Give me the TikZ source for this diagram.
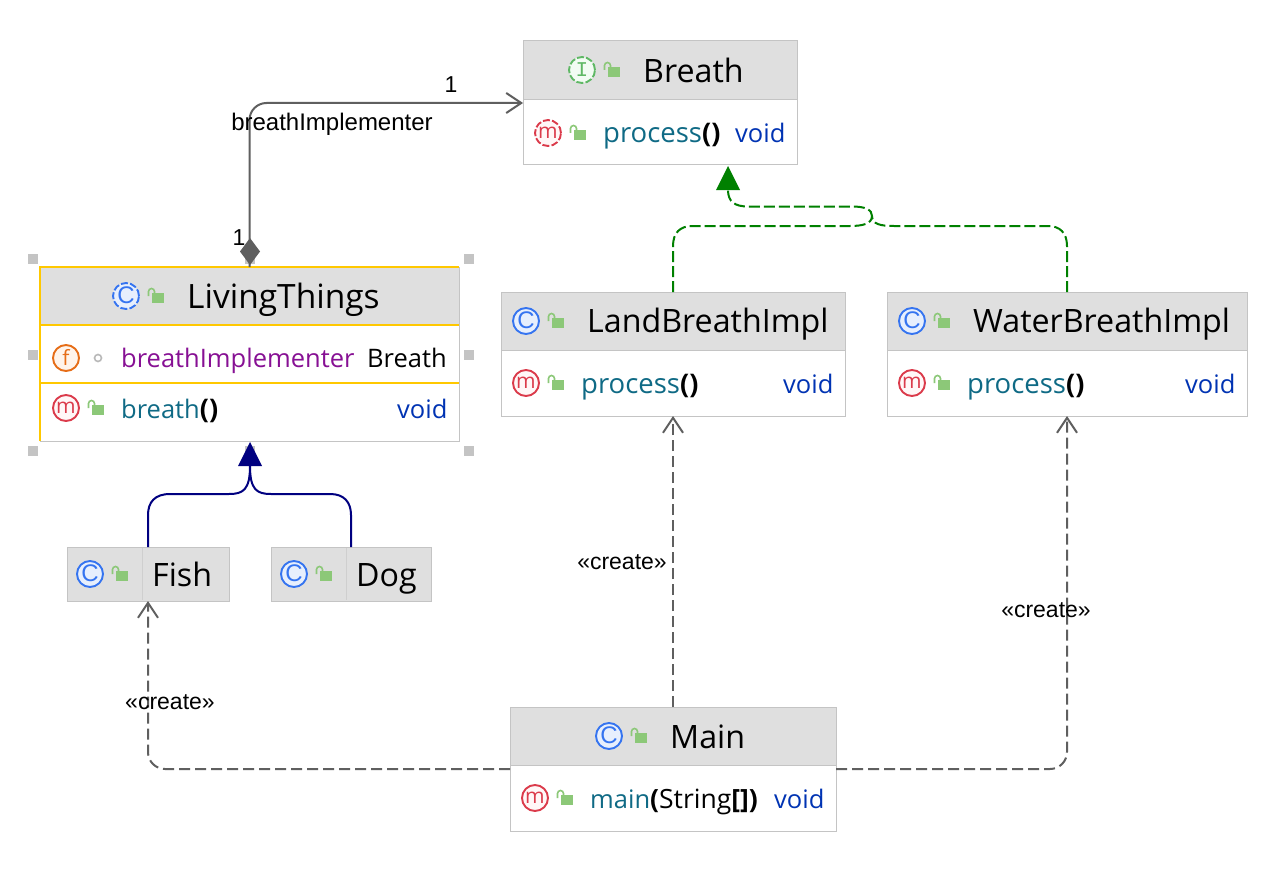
\documentclass[tikz,border=0pt]{standalone}
\usepackage{fontspec}
\setmainfont{Open Sans}
\newfontfamily\lab{Liberation Sans}
\newfontfamily\icmono{Liberation Mono}
\usetikzlibrary{arrows.meta}
\definecolor{hdr}{HTML}{DFDFDF}
\definecolor{edge}{HTML}{C4C4C4}
\definecolor{sel}{HTML}{FFC800}
\definecolor{tealm}{HTML}{0F6A85}
\definecolor{voidb}{HTML}{0033B3}
\definecolor{purp}{HTML}{871094}
\definecolor{lockg}{HTML}{8CC878}
\definecolor{conn}{HTML}{5F5F5F}
\definecolor{gr}{HTML}{008000}
\definecolor{nv}{HTML}{000080}
\newcommand{\procfont}{\fontsize{27.5}{28}\selectfont}
\newcommand{\parenfont}{\fontsize{27}{28}\selectfont\bfseries}
\tikzset{
 box/.style={draw=edge,line width=1pt,fill=white,inner sep=0pt,outer sep=0pt},
 head/.style={fill=hdr,draw=none},
 ttl/.style={anchor=base west,inner sep=0pt,font=\fontsize{32.2}{33}\selectfont,text=black},
 itm/.style={anchor=base west,inner sep=0pt,font=\fontsize{25.5}{26}\selectfont},
 lbl/.style={inner sep=0pt,font=\lab\fontsize{23}{23}\selectfont,text=black},
 conline/.style={draw=conn,line width=2pt},
 barb/.style={-{Straight Barb[length=15pt,width=20pt,line width=2pt]}},
 dep/.style={conline,dash pattern=on 11pt off 5pt,barb},
 gdash/.style={gr,line width=2pt,dash pattern=on 11pt off 4pt},
 lockbody/.style={fill=lockg,draw=none},
 hnd/.style={fill=edge,draw=none,minimum size=10pt,inner sep=0pt,outer sep=0pt},
 ic/.style={circle,inner sep=0pt,minimum size=26pt,line width=1.9pt},
}
\newcommand{\lockat}[2]{%
 \fill[lockbody] (#1-4,#2-3) rectangle (#1+8,#2+7);
 \draw[lockg,line width=1.6pt] (#1-7.5,#2) -- (#1-7.5,#2-4.5) arc[start angle=180,end angle=360,radius=3] -- (#1-1.5,#2-3);}
\newcommand{\iconat}[5]{% x,y,letter,colour,fill
 \node[ic,draw=#4,fill=#5,text=#4,font=\fontsize{21}{21}\selectfont] at (#1,#2) {\raisebox{1pt}{#3}};}
\newcommand{\dashiconat}[5]{%
 \node[ic,draw=#4,fill=#5,text=#4,dash pattern=on 7pt off 2.2pt,font=\fontsize{21}{21}\selectfont] at (#1,#2) {\raisebox{1pt}{#3}};}
\definecolor{cb}{HTML}{3574F0}\definecolor{cbf}{HTML}{E7EFFD}
\definecolor{mr}{HTML}{DB3B4B}\definecolor{mrf}{HTML}{FFF7F7}
\definecolor{fo}{HTML}{E66D17}\definecolor{fof}{HTML}{FFF4EB}
\definecolor{ig}{HTML}{5FB865}\definecolor{igf}{HTML}{F2FCF3}
\newcommand{\Cc}{{\lab\fontsize{24}{24}\selectfont C}}
\newcommand{\Ii}{{\icmono\fontsize{21}{21}\selectfont I}}
\begin{document}
\begin{tikzpicture}[x=1pt,y=-1pt]
\useasboundingbox (0,0) rectangle (1288,872);
\fill[white] (0,0) rectangle (1288,872);

% selection handles
\foreach \hx/\hy/\hn in {33/259/a,250/259/b,469/259/c,33/355/d,469/355/e,33/451/f,250/451/g,469/451/h}
 \node[hnd] (hnd\hn) at (\hx,\hy) {};

% Breath
\node[box,minimum width=274pt,minimum height=124pt] (breath) at (660,103) {};
\fill[head] (523.5,41.5) rectangle (796.5,99);
\draw[edge,line width=1.6pt] (523,99.5) -- (797,99.5);
\dashiconat{582}{70}{\Ii}{ig}{igf}
\lockat{612}{70}
\node[ttl] (breathT) at (643,82.5) {Breath};
\dashiconat{548}{133}{m}{mr}{mrf}
\lockat{578}{133}
\node[itm,text=tealm] (breathP) at (603,142.5) {\procfont process\textcolor{black}{\parenfont ()}};
\node[itm,text=voidb] (breathV) at (735,142.5) {void};

% LivingThings
\node[box,draw=none,minimum width=419pt,minimum height=174pt] (living) at (249.5,354) {};
\fill[head] (40,267) rectangle (459,325);
\draw[edge,line width=1pt] (40,441) -- (459,441) -- (459,267);
\draw[sel,line width=1.8pt] (40,441) -- (40,267) -- (459,267);
\draw[sel,line width=1.8pt] (40,325) -- (459,325);
\draw[sel,line width=1.8pt] (40,383) -- (459,383);
\dashiconat{126}{296}{\Cc}{cb}{cbf}
\lockat{156}{296}
\node[ttl,font=\fontsize{33.5}{34}\selectfont] (livingT) at (187,308) {LivingThings};
\iconat{66}{358}{f}{fo}{fof}
\draw[edge!70!black!60!white,line width=1.6pt] (98,358) circle (3.5);
\node[itm,text=purp] (livingF) at (121,367.5) {breathImplementer};
\node[itm,text=black] (livingB) at (367,367.5) {Breath};
\iconat{66}{408}{m}{mr}{mrf}
\lockat{96}{408}
\node[itm,text=tealm] (livingM) at (121,418) {breath\textcolor{black}{\parenfont ()}};
\node[itm,text=voidb] (livingV) at (397,418) {void};

% LandBreathImpl
\node[box,minimum width=344pt,minimum height=124pt] (land) at (673,354) {};
\fill[head] (501.5,292.5) rectangle (844.5,350);
\draw[edge,line width=1.6pt] (501,350.5) -- (845,350.5);
\iconat{526}{321}{\Cc}{cb}{cbf}
\lockat{556}{321}
\node[ttl] (landT) at (587,332.5) {LandBreathImpl};
\iconat{526}{383}{m}{mr}{mrf}
\lockat{556}{383}
\node[itm,text=tealm] (landP) at (581,393.5) {\procfont process\textcolor{black}{\parenfont ()}};
\node[itm,text=voidb] (landV) at (783,393.5) {void};

% WaterBreathImpl
\node[box,minimum width=360pt,minimum height=124pt] (water) at (1067,354) {};
\fill[head] (887.5,292.5) rectangle (1246.5,350);
\draw[edge,line width=1.6pt] (887,350.5) -- (1247,350.5);
\iconat{912}{321}{\Cc}{cb}{cbf}
\lockat{942}{321}
\node[ttl] (waterT) at (973,332.5) {WaterBreathImpl};
\iconat{912}{383}{m}{mr}{mrf}
\lockat{942}{383}
\node[itm,text=tealm] (waterP) at (967,393.5) {\procfont process\textcolor{black}{\parenfont ()}};
\node[itm,text=voidb] (waterV) at (1185,393.5) {void};

% Fish
\node[box,fill=hdr,minimum width=162pt,minimum height=54pt] (fish) at (148,574) {};
\draw[edge!60!hdr,line width=.8pt] (142.5,548) -- (142.5,600);
\iconat{90}{574}{\Cc}{cb}{cbf}
\lockat{120}{574}
\node[ttl] (fishT) at (152,586) {Fish};

% Dog
\node[box,fill=hdr,minimum width=160pt,minimum height=54pt] (dog) at (351,574) {};
\draw[edge!60!hdr,line width=.8pt] (346,548) -- (346,600);
\iconat{294}{574}{\Cc}{cb}{cbf}
\lockat{324}{574}
\node[ttl] (dogT) at (356,586) {Dog};

% Main
\node[box,minimum width=326pt,minimum height=124pt] (main) at (673,769) {};
\fill[head] (510.5,707.5) rectangle (835.5,765);
\draw[edge,line width=1.6pt] (510,765.5) -- (836,765.5);
\iconat{609}{736}{\Cc}{cb}{cbf}
\lockat{639}{736}
\node[ttl] (mainT) at (670,748) {Main};
\iconat{535}{798}{m}{mr}{mrf}
\lockat{565}{798}
\node[itm,text=tealm] (mainM) at (590,808) {main\textcolor{black}{\fontsize{26.5}{27}\selectfont\textbf{(}String\textbf{[])}}};
\node[itm,text=voidb] (mainV) at (774,808) {void};

% connectors
\draw[conline,rounded corners=17pt,barb] (living.north) |- (breath.west);
\fill[conn] (250,238) -- (260,251.5) -- (250,265) -- (240,251.5) -- cycle;
\node[lbl] (l1) at (451,85) {1};
\node[lbl] (l2) at (239,238) {1};
\node[lbl,font=\lab\fontsize{24}{24}\selectfont] (l3) at (332,124) {breathImplementer};

\coordinate (gtip) at (728,166);
\draw[gdash] (land.north) -- (673,246) .. controls (673,233) and (680,226) .. (692,226) -- (850,226) .. controls (862,226) and (872,224) .. (872,216);
\draw[gdash] (water.north) -- (1067,246) .. controls (1067,233) and (1060,226) .. (1048,226) -- (894,226) .. controls (880,226) and (872,224) .. (872,216) .. controls (872,210) and (866,206.5) .. (852,206.5) -- (748,206.5) .. controls (735,206.5) and (728,202) .. (728,190);
\fill[gr] (gtip) -- (740,190) -- (716,190) -- cycle;

\draw[nv,line width=2pt] (fish.north) -- (148,515) .. controls (148,502) and (155,494) .. (170,494) -- (229,494) .. controls (243,494) and (250,490) .. (250,466);
\draw[nv,line width=2pt] (dog.north) -- (351,515) .. controls (351,502) and (344,494) .. (330,494) -- (271,494) .. controls (257,494) and (250,490) .. (250,466);
\fill[nv] (living.south) ++(.5,1) -- (262,466) -- (238,466) -- cycle;

\draw[dep] (main.north) -- (land.south);
\draw[dep,rounded corners=17pt] (main.east) -| (water.south);
\draw[dep,rounded corners=17pt] (main.west) -| (fish.south);
\node[lbl] (c1) at (622,562) {«create»};
\node[lbl] (c2) at (1046,610) {«create»};
\node[lbl] (c3) at (170,702) {«create»};
\end{tikzpicture}
\end{document}
